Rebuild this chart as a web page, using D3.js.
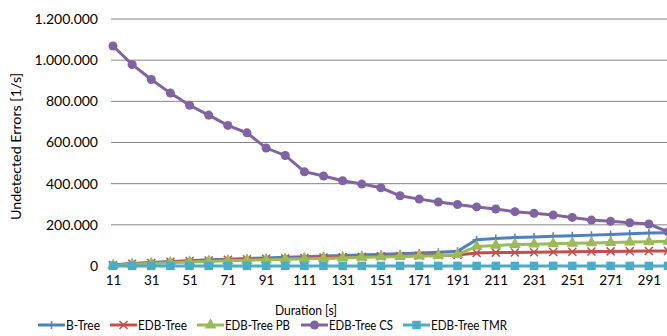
<!DOCTYPE html>
<html><head><meta charset="utf-8">
<script src="https://cdn.jsdelivr.net/npm/d3@7"></script>
<style>body{margin:0;background:#fff;}svg{display:block;font-family:Lato,"Open Sans",sans-serif;}</style>
</head><body><svg id="c" width="667" height="336"></svg>
<script>
const durations = [11,21,31,41,51,61,71,81,91,101,111,121,131,141,151,161,171,181,191,201,211,221,231,241,251,261,271,281,291,301];
const tickLabels = [11,31,51,71,91,111,131,151,171,191,211,231,251,271,291];
const yTicks = [0,200000,400000,600000,800000,1000000,1200000];
const seriesNames = ["B-Tree","EDB-Tree","EDB-Tree PB","EDB-Tree CS","EDB-Tree TMR"];
const bTree = [5000,12000,17000,22000,26000,30000,33000,36000,39000,42000,45000,48000,51000,54000,57000,60000,63000,67000,72000,128000,134000,138000,141000,144000,147000,150000,153000,157000,160000,162000];
const edbTree = [5000,11000,15000,20000,24000,27000,30000,33000,35000,37000,39000,41000,43000,45000,47000,49000,50000,52000,54000,63000,65000,66000,67000,68000,69000,70000,71000,72000,73000,73000];
const edbPB = [3000,8000,12000,16000,19000,22000,25000,28000,30000,33000,35000,37000,39000,42000,44000,46000,48000,50000,55000,95000,100000,104000,106000,108000,110000,112000,114000,116000,118000,120000];
const edbCS = [1069000,979000,906000,840000,781000,733000,683000,647000,573000,537000,458000,437000,414000,398000,380000,341000,325000,311000,299000,287000,277000,264000,256000,248000,236000,223000,217000,210000,204000,166000];
const edbTMR = [500,500,500,500,500,500,500,500,500,500,500,500,500,500,500,500,500,500,500,500,500,500,500,500,500,500,500,500,500,500];

const colors = ["#4F81BD","#C0504D","#9BBB59","#8064A2","#4BACC6"];
const markers = ["plus","cross","triangle","circle","square"];
const allData = [bTree, edbTree, edbPB, edbCS, edbTMR];

// layout only
const legendX = [38,110,197,301,403];
const legendTextW = [34,49,65,64,76];

const svg = d3.select("#c");
const x = d3.scaleLinear().domain([11,301]).range([113,668]);
const y = d3.scaleLinear().domain([0,1200000]).range([266,19]);
const fmt = v => d3.format(",")(v).replace(/,/g,".");
const FS = 14;

// gridlines
svg.append("g").selectAll("line").data(yTicks.filter(d=>d>0)).join("line")
  .attr("x1",111).attr("x2",667).attr("y1",d=>y(d)).attr("y2",d=>y(d))
  .attr("stroke","#868686").attr("stroke-width",1);

// y axis labels
const yAxis = d3.axisLeft(y).tickValues(yTicks).tickFormat(fmt).tickSize(0).tickPadding(0);
const gy = svg.append("g").attr("transform","translate(98,0)").call(yAxis);
gy.select(".domain").remove();
gy.selectAll("text").attr("font-size",FS).attr("fill","#000").attr("font-family","Lato");

// x axis
const xAxis = d3.axisBottom(x).tickValues(tickLabels).tickSize(0).tickPadding(9);
const gx = svg.append("g").attr("transform","translate(0,266)").call(xAxis);
gx.select(".domain").attr("stroke","#868686").attr("d","M111,0H667");
gx.selectAll("text").attr("font-size",13.5).attr("fill","#000").attr("font-family","Lato");

// lines
const line = d3.line().x((d,i)=>x(durations[i])).y(d=>y(d));
const sym = {
  circle: d3.symbol().type(d3.symbolCircle).size(64),
  triangle: d3.symbol().type(d3.symbolTriangle).size(60),
  square: d3.symbol().type(d3.symbolSquare).size(72)
};
function drawMarker(g, type, color, cx, cy) {
  if (type === "plus") {
    g.append("path").attr("d",`M${cx-4},${cy}H${cx+4}M${cx},${cy-4}V${cy+4}`).attr("stroke",color).attr("stroke-width",1.5);
  } else if (type === "cross") {
    g.append("path").attr("d",`M${cx-4},${cy-4}L${cx+4},${cy+4}M${cx-4},${cy+4}L${cx+4},${cy-4}`).attr("stroke",color).attr("stroke-width",1.5);
  } else {
    g.append("path").attr("d",sym[type]()).attr("transform",`translate(${cx},${cy})`).attr("fill",color);
  }
}
allData.forEach((data, si) => {
  const g = svg.append("g");
  g.append("path").datum(data).attr("d",line).attr("fill","none").attr("stroke",colors[si]).attr("stroke-width",3);
  data.forEach((v,i)=>drawMarker(g, markers[si], colors[si], x(durations[i]), y(v)));
});

// axis titles
svg.append("text").attr("x",306).attr("y",315).attr("text-anchor","middle").attr("font-size",13.5)
  .attr("textLength",62).attr("lengthAdjust","spacingAndGlyphs").text("Duration [s]");
svg.append("text").attr("transform","translate(21,146.5) rotate(-90)").attr("text-anchor","middle").attr("font-size",13.5)
  .attr("textLength",147).attr("lengthAdjust","spacingAndGlyphs").text("Undetected Errors [1/s]");

// legend
seriesNames.forEach((n,i)=>{
  const g = svg.append("g");
  const lx = legendX[i], ly = 325;
  g.append("line").attr("x1",lx).attr("x2",lx+27).attr("y1",ly).attr("y2",ly).attr("stroke",colors[i]).attr("stroke-width",3);
  drawMarker(g, markers[i], colors[i], lx+13.5, ly);
  g.append("text").attr("x",lx+28).attr("y",ly+5).attr("font-size",13.5)
    .attr("textLength",legendTextW[i]).attr("lengthAdjust","spacingAndGlyphs").text(n);
});
</script></body></html>
